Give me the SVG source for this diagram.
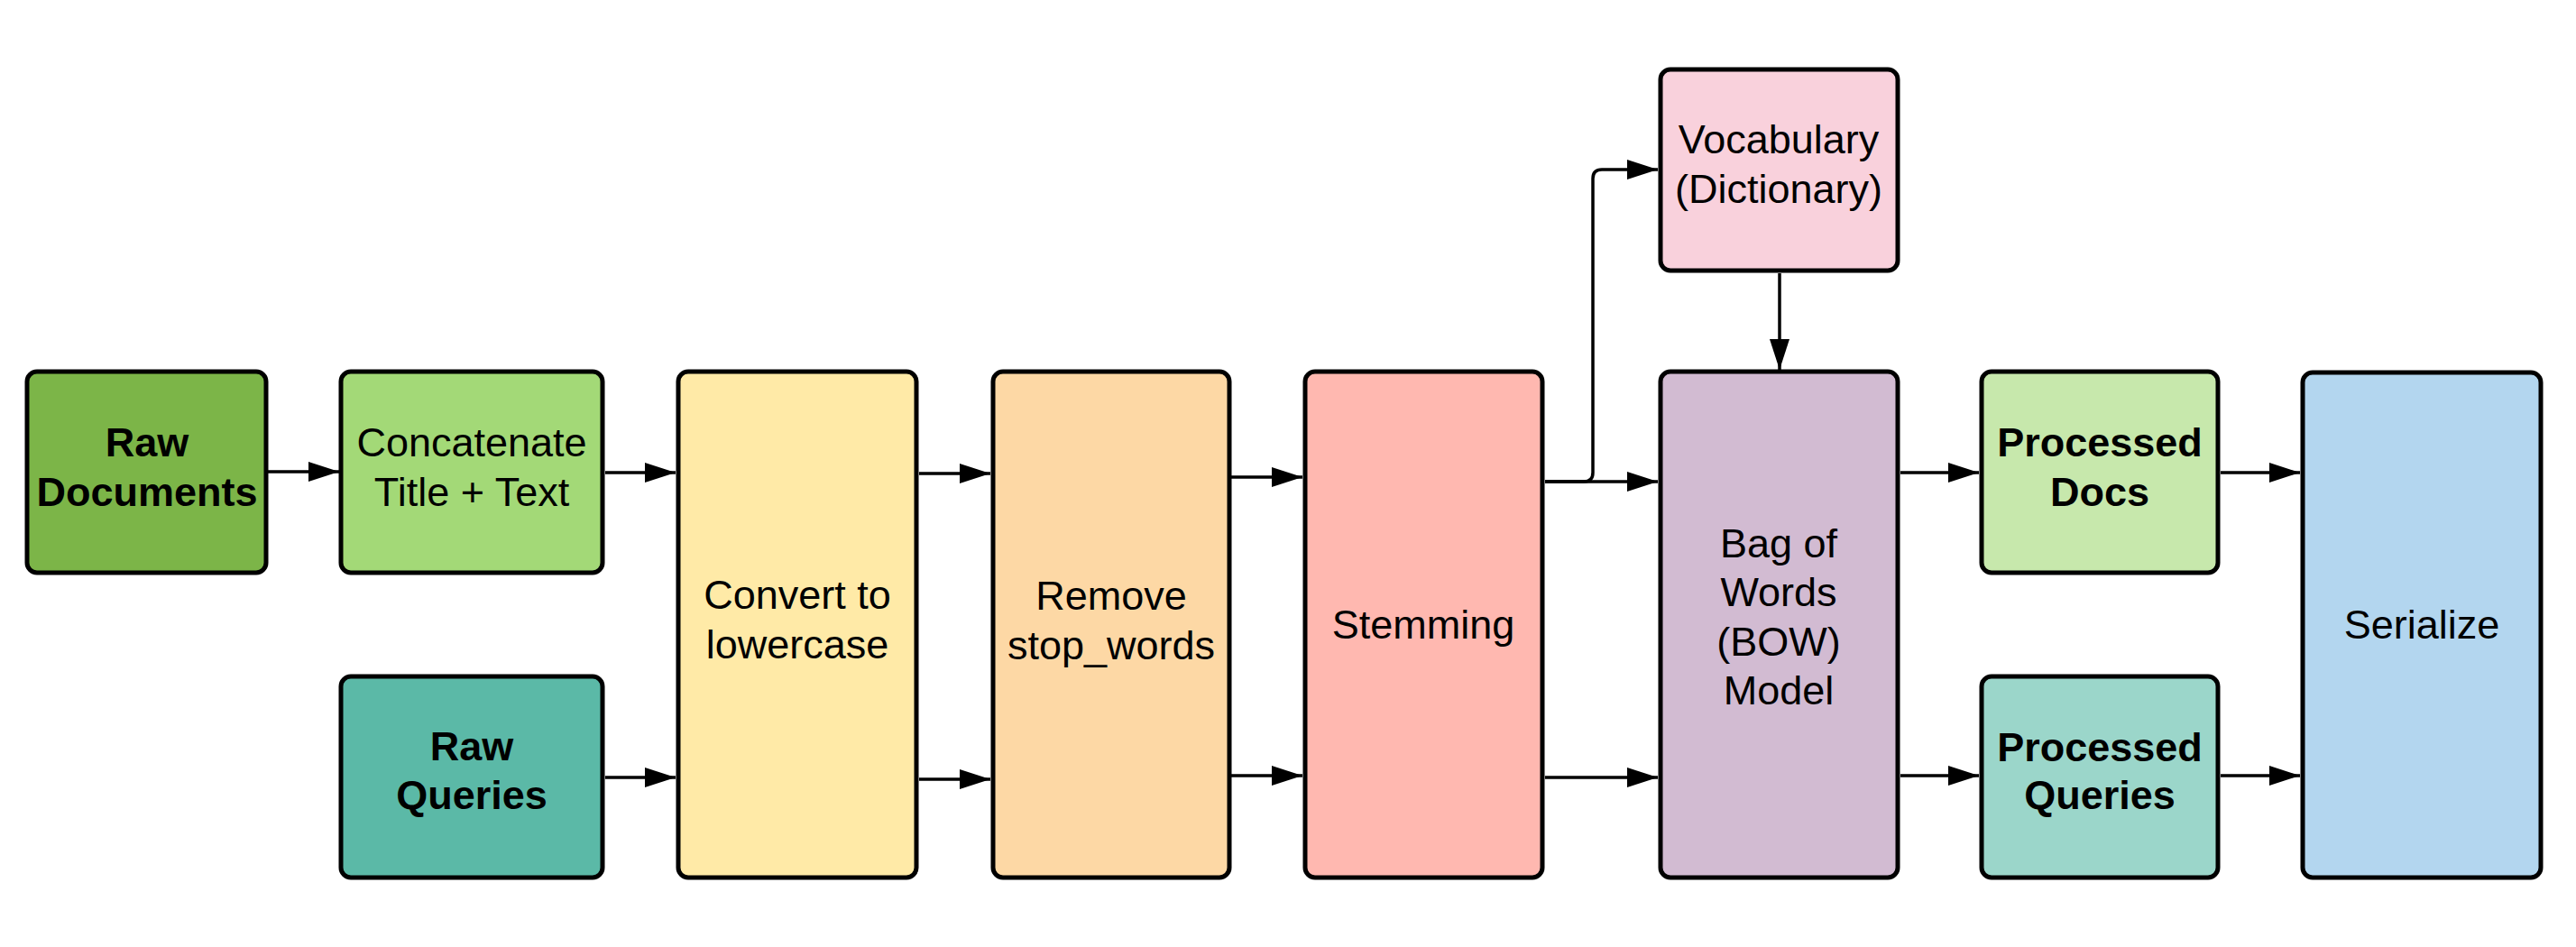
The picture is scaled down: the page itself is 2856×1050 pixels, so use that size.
<svg xmlns="http://www.w3.org/2000/svg" width="2856" height="1050" viewBox="0 0 2856 1050">
<defs>
<style>
.box{stroke:#000;stroke-width:5;}
.t{font-family:"Liberation Sans",Arial,sans-serif;font-size:45px;fill:#000;text-anchor:middle;}
.b{font-weight:bold;}
.c{fill:none;stroke:#000;stroke-width:3.5;marker-end:url(#ah);}
</style>
<marker id="ah" markerUnits="userSpaceOnUse" markerWidth="34" markerHeight="22" refX="34" refY="11" orient="auto">
<path d="M0,0 L34,11 L0,22 Z" fill="#000"/>
</marker>
</defs>
<rect width="2856" height="1050" fill="#fff"/>
<g id="connectors">
<path class="c" d="M297,523 H376"/>
<path class="c" d="M671,524 H749"/>
<path class="c" d="M671,862 H749"/>
<path class="c" d="M1019,525 H1098"/>
<path class="c" d="M1019,864 H1098"/>
<path class="c" d="M1365,529 H1444"/>
<path class="c" d="M1365,860 H1444"/>
<path class="c" d="M1713,534 H1838"/>
<path class="c" d="M1713,534 H1756 Q1766,534 1766,524 V198 Q1766,188 1776,188 H1838"/>
<path class="c" d="M1713,862 H1838"/>
<path class="c" d="M1973,303 V410"/>
<path class="c" d="M2107,524 H2194"/>
<path class="c" d="M2107,860 H2194"/>
<path class="c" d="M2462,524 H2550"/>
<path class="c" d="M2462,860 H2550"/>
</g>
<g id="raw-documents">
<rect class="box" x="30" y="412" width="265" height="223" rx="11" fill="#7cb548"/>
<text class="t b" x="163" y="506">Raw</text>
<text class="t b" x="163" y="561">Documents</text>
</g>
<g id="concatenate">
<rect class="box" x="378" y="412" width="290" height="223" rx="11" fill="#a3d977"/>
<text class="t" x="523" y="506">Concatenate</text>
<text class="t" x="523" y="561">Title + Text</text>
</g>
<g id="raw-queries">
<rect class="box" x="378" y="750" width="290" height="223" rx="11" fill="#5bb9a7"/>
<text class="t b" x="523" y="843">Raw</text>
<text class="t b" x="523" y="897">Queries</text>
</g>
<g id="lowercase">
<rect class="box" x="752" y="412" width="264" height="561" rx="11" fill="#ffeaa7"/>
<text class="t" x="884" y="675">Convert to</text>
<text class="t" x="884" y="730">lowercase</text>
</g>
<g id="stop-words">
<rect class="box" x="1101" y="412" width="262" height="561" rx="11" fill="#fdd8a5"/>
<text class="t" x="1232" y="676">Remove</text>
<text class="t" x="1232" y="731">stop_words</text>
</g>
<g id="stemming">
<rect class="box" x="1447" y="412" width="263" height="561" rx="11" fill="#ffb8b0"/>
<text class="t" x="1578" y="708">Stemming</text>
</g>
<g id="vocabulary">
<rect class="box" x="1841" y="77" width="263" height="223" rx="11" fill="#f9d1dc"/>
<text class="t" x="1972" y="170">Vocabulary</text>
<text class="t" x="1972" y="225">(Dictionary)</text>
</g>
<g id="bow">
<rect class="box" x="1841" y="412" width="263" height="561" rx="11" fill="#d2bbd2"/>
<text class="t" x="1972" y="618">Bag of</text>
<text class="t" x="1972" y="672">Words</text>
<text class="t" x="1972" y="727">(BOW)</text>
<text class="t" x="1972" y="781">Model</text>
</g>
<g id="processed-docs">
<rect class="box" x="2197" y="412" width="262" height="223" rx="11" fill="#c7e8ac"/>
<text class="t b" x="2328" y="506">Processed</text>
<text class="t b" x="2328" y="561">Docs</text>
</g>
<g id="processed-queries">
<rect class="box" x="2197" y="750" width="262" height="223" rx="11" fill="#9bd6ca"/>
<text class="t b" x="2328" y="844">Processed</text>
<text class="t b" x="2328" y="897">Queries</text>
</g>
<g id="serialize">
<rect class="box" x="2553" y="413" width="264" height="560" rx="11" fill="#b3d6ef"/>
<text class="t" x="2685" y="708">Serialize</text>
</g>
</svg>
